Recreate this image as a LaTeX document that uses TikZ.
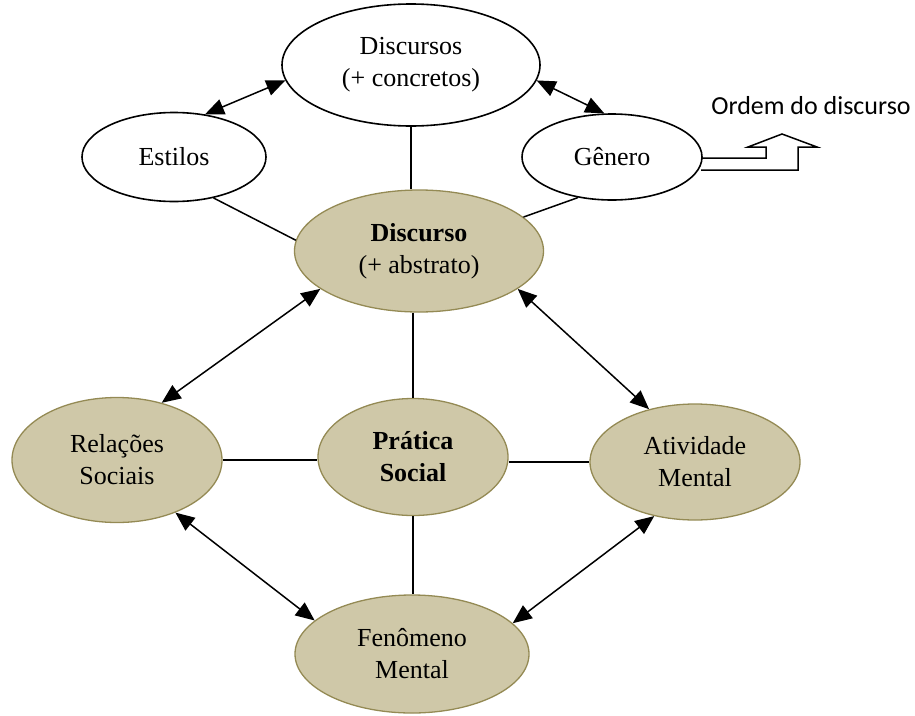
\documentclass[tikz,border=0pt]{standalone}
\usepackage{fontspec}
\setmainfont{Liberation Serif}
\newfontfamily\calfont{Carlito}
\usetikzlibrary{shapes.geometric,arrows.meta}
\definecolor{tanfill}{RGB}{207,200,168}
\definecolor{tanline}{RGB}{148,138,84}
\tikzset{
  ov/.style={ellipse,draw=black,line width=1.6pt,fill=white,inner sep=0pt,align=center,
    font=\fontsize{26}{32}\selectfont},
  tan/.style={ov,draw=tanline,fill=tanfill,line width=1.3pt},
  link/.style={line width=1.5pt},
  both/.style={line width=1.5pt,{Triangle[length=19pt,width=16pt]}-{Triangle[length=19pt,width=16pt]}},
}
\begin{document}
\begin{tikzpicture}[x=1pt,y=-1pt]
\useasboundingbox (0,0) rectangle (915,715);
\node[ov,minimum width=258pt,minimum height=122pt] (dsc) at (411,65) {Discursos\\(+ concretos)};
\node[ov,minimum width=184pt,minimum height=89pt] (est) at (174,157) {Estilos};
\node[ov,minimum width=180pt,minimum height=86pt] (gen) at (612,157) {Gênero};
\node[tan,minimum width=249pt,minimum height=122pt] (dab) at (419,251) {\textbf{Discurso}\\(+ abstrato)};
\node[tan,minimum width=190pt,minimum height=117pt] (pra) at (413,457) {\textbf{Prática}\\\textbf{Social}};
\node[tan,minimum width=210pt,minimum height=125pt] (rel) at (117,460) {Relações\\Sociais};
\node[tan,minimum width=210pt,minimum height=116pt] (ati) at (695,462) {Atividade\\Mental};
\node[tan,minimum width=234pt,minimum height=118pt] (fen) at (412,654) {Fenômeno\\Mental};
\node[font=\calfont\fontsize{26}{30}\selectfont,anchor=center] (ord) at (811,106) {Ordem do discurso};
% plain links
\draw[link] (dsc.south) -- (dsc.south |- dab.north);
\draw[link] (pra.north |- dab.south) -- (pra.north);
\draw[link] (pra.south) -- (pra.south |- fen.north);
\draw[link] (est.-46) -- (dab.175);
\draw[link] (gen.230) -- (dab.18);
\draw[link] (rel.east) -- (rel.east -| pra.west);
\draw[link] (pra.east |- ati.west) -- (ati.west);
% double arrows
\draw[both] (est.54) -- (dsc.187);
\draw[both] (dsc.-7) -- (gen.100);
\draw[both] (dab.201) -- (rel.52);
\draw[both] (dab.-21.5) -- (ati.131);
\draw[both] (rel.-42) -- (fen.161);
\draw[both] (fen.17) -- (ati.233);
% block arrow
\draw[line width=1.5pt,line join=miter] (702,158) -- (766,158) -- (766,147) -- (748,147) -- (782,134) -- (817,147) -- (798,147) -- (798,170) -- (701,170);
\end{tikzpicture}
\end{document}
